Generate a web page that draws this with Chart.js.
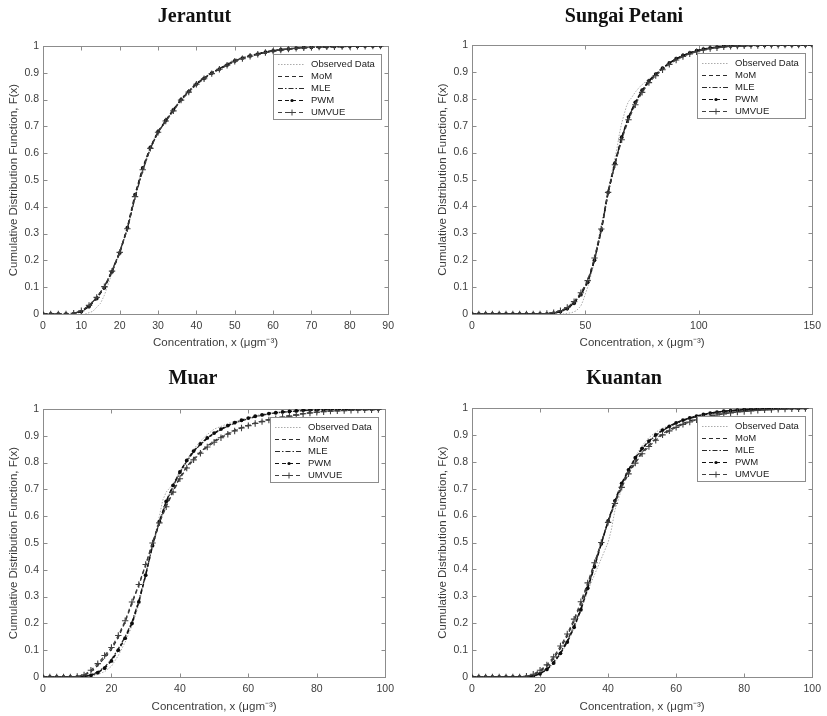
<!DOCTYPE html>
<html>
<head>
<meta charset="utf-8">
<title>CDF fits</title>
<script src="https://cdn.jsdelivr.net/npm/chart.js@4.4.1/dist/chart.umd.min.js"></script>
<style>
  html, body { margin: 0; padding: 0; background: #fff; }
  #fig { position: relative; width: 827px; height: 716px; overflow: hidden; }
  #fig canvas { position: absolute; }
</style>
</head>
<body>
<div id="fig">
  <canvas id="jer" width="400" height="358" style="left:0;top:0"></canvas>
  <canvas id="sp" width="395" height="358" style="left:432px;top:0"></canvas>
  <canvas id="muar" width="400" height="356" style="left:0;top:360px"></canvas>
  <canvas id="kua" width="395" height="356" style="left:432px;top:360px"></canvas>
</div>
<script>
// ---- data ----
// Jerantut
const jerX = [0,2,4,6,8,10,12,14,16,18,20,22,24,26,28,30,32,34,36,38,40,42,44,46,48,50,52,54,56,58,60,62,64,66,68,70,72,74,76,78,80,82,84,86,88];
const jerMoM = [0,0,0,0,0.002,0.01,0.03,0.06,0.10,0.16,0.23,0.32,0.44,0.54,0.62,0.68,0.72,0.76,0.80,0.83,0.86,0.88,0.90,0.915,0.93,0.945,0.955,0.963,0.97,0.977,0.982,0.986,0.989,0.992,0.994,0.995,0.996,0.997,0.998,0.998,0.999,0.999,1,1,1];
const jerMLE = [0,0,0,0,0.002,0.011,0.031,0.061,0.102,0.162,0.232,0.318,0.435,0.535,0.618,0.678,0.72,0.762,0.802,0.832,0.861,0.881,0.9,0.916,0.931,0.945,0.955,0.964,0.971,0.977,0.982,0.986,0.989,0.992,0.994,0.995,0.996,0.997,0.998,0.998,0.999,0.999,1,1,1];
const jerPWM = [0,0,0,0,0.001,0.009,0.028,0.058,0.098,0.158,0.228,0.322,0.445,0.545,0.622,0.68,0.722,0.762,0.8,0.83,0.858,0.879,0.899,0.914,0.929,0.944,0.955,0.963,0.97,0.977,0.982,0.986,0.989,0.992,0.994,0.995,0.996,0.997,0.998,0.998,0.999,0.999,1,1,1];
const jerUMVUE = [0,0,0,0,0.003,0.012,0.032,0.062,0.102,0.16,0.23,0.318,0.438,0.538,0.618,0.678,0.72,0.758,0.798,0.828,0.857,0.878,0.897,0.913,0.928,0.943,0.953,0.962,0.969,0.976,0.981,0.985,0.989,0.991,0.993,0.995,0.996,0.997,0.997,0.998,0.999,0.999,0.999,1,1];
const jerObsX = [11,13,14,15,16,17,18,19,20,21,22,23,24,25,26,27,28,29,30,31,32,33,34,36,38,40,42,44,46,48,50,53,56,60,65,72];
const jerObsY = [0,0.01,0.025,0.04,0.07,0.11,0.155,0.19,0.225,0.27,0.32,0.375,0.435,0.50,0.545,0.585,0.62,0.655,0.685,0.70,0.725,0.735,0.76,0.795,0.825,0.855,0.88,0.90,0.915,0.935,0.95,0.96,0.97,0.985,0.99,1.0];

// Sungai Petani
const spX = [0,3,6,9,12,15,18,21,24,27,30,33,36,39,42,45,48,51,54,57,60,63,66,69,72,75,78,81,84,87,90,93,96,99,102,105,108,111,114,117,120,123,126,129,132,135,138,141,144,147,150];
const spMoM = [0,0,0,0,0,0,0,0,0,0,0,0.001,0.004,0.011,0.022,0.043,0.075,0.12,0.205,0.315,0.455,0.56,0.655,0.73,0.785,0.83,0.865,0.89,0.912,0.932,0.948,0.96,0.97,0.978,0.984,0.989,0.992,0.994,0.996,0.997,0.998,0.998,0.999,0.999,0.999,1,1,1,1,1,1];
const spMLE = [0,0,0,0,0,0,0,0,0,0,0,0.001,0.003,0.01,0.021,0.041,0.073,0.118,0.2,0.31,0.45,0.558,0.655,0.73,0.786,0.831,0.866,0.891,0.913,0.933,0.948,0.96,0.97,0.978,0.984,0.989,0.992,0.994,0.996,0.997,0.998,0.998,0.999,0.999,0.999,1,1,1,1,1,1];
const spPWM = [0,0,0,0,0,0,0,0,0,0,0,0,0.003,0.009,0.02,0.04,0.072,0.118,0.2,0.312,0.452,0.56,0.657,0.732,0.787,0.832,0.867,0.892,0.914,0.933,0.949,0.961,0.971,0.979,0.985,0.989,0.992,0.995,0.996,0.997,0.998,0.999,0.999,0.999,1,1,1,1,1,1,1];
const spUMVUE = [0,0,0,0,0,0,0,0,0,0,0,0.002,0.005,0.012,0.024,0.046,0.079,0.124,0.208,0.316,0.452,0.555,0.648,0.722,0.778,0.824,0.86,0.886,0.908,0.928,0.944,0.957,0.967,0.975,0.982,0.987,0.99,0.993,0.995,0.996,0.997,0.998,0.998,0.999,0.999,0.999,1,1,1,1,1];
const spObsX = [40,44,46,48,49,50,51,52,53,54,55,56,57,58,59,60,61,62,63,64,65,66,67,68,69,70,72,74,76,78,80,83,86,90,95,100,105,110,120,130,140];
const spObsY = [0,0.005,0.012,0.03,0.05,0.075,0.10,0.13,0.16,0.2,0.25,0.29,0.33,0.37,0.42,0.46,0.50,0.54,0.58,0.62,0.67,0.71,0.74,0.77,0.79,0.80,0.825,0.845,0.86,0.875,0.885,0.905,0.925,0.95,0.97,0.98,0.987,0.992,0.997,0.999,1];

// Muar and Kuantan share the 0-98 grid
const x100 = [0,2,4,6,8,10,12,14,16,18,20,22,24,26,28,30,32,34,36,38,40,42,44,46,48,50,52,54,56,58,60,62,64,66,68,70,72,74,76,78,80,82,84,86,88,90,92,94,96,98];

// Muar
const muarMoM = [0,0,0,0,0,0.001,0.006,0.02,0.043,0.072,0.103,0.148,0.205,0.275,0.342,0.418,0.50,0.578,0.64,0.695,0.745,0.785,0.815,0.84,0.862,0.88,0.896,0.909,0.921,0.931,0.94,0.948,0.955,0.961,0.966,0.971,0.975,0.979,0.983,0.986,0.989,0.991,0.993,0.994,0.995,0.996,0.997,0.997,0.998,0.998];
const muarMLE = [0,0,0,0,0,0,0.003,0.008,0.019,0.037,0.065,0.105,0.15,0.205,0.285,0.382,0.49,0.578,0.652,0.712,0.762,0.805,0.84,0.868,0.89,0.908,0.923,0.936,0.947,0.956,0.964,0.971,0.977,0.982,0.985,0.988,0.99,0.992,0.994,0.995,0.996,0.997,0.998,0.998,0.999,0.999,0.999,1,1,1];
const muarPWM = [0,0,0,0,0,0,0.002,0.006,0.016,0.033,0.06,0.10,0.145,0.20,0.28,0.38,0.49,0.58,0.655,0.715,0.765,0.808,0.843,0.87,0.892,0.91,0.925,0.938,0.949,0.958,0.966,0.973,0.978,0.983,0.986,0.989,0.991,0.993,0.995,0.996,0.997,0.998,0.998,0.999,0.999,0.999,1,1,1,1];
const muarUMVUE = [0,0,0,0,0,0.002,0.008,0.025,0.05,0.08,0.11,0.155,0.21,0.28,0.345,0.42,0.50,0.575,0.635,0.69,0.74,0.78,0.81,0.835,0.858,0.876,0.893,0.906,0.918,0.929,0.938,0.946,0.953,0.959,0.964,0.969,0.973,0.977,0.982,0.985,0.988,0.99,0.992,0.993,0.994,0.995,0.996,0.997,0.997,0.998];
const muarObsX = [14,16,18,20,22,24,26,28,30,32,34,35,36,38,40,42,44,46,48,50,52,55,58,62,66,70,75,80,90];
const muarObsY = [0,0.01,0.02,0.04,0.08,0.13,0.19,0.27,0.38,0.49,0.60,0.66,0.69,0.72,0.77,0.81,0.85,0.88,0.905,0.925,0.935,0.95,0.96,0.975,0.985,0.99,0.995,0.998,1];

// Kuantan
const kuaMoM = [0,0,0,0,0,0,0,0,0.002,0.008,0.021,0.04,0.068,0.107,0.153,0.208,0.273,0.345,0.422,0.50,0.578,0.65,0.71,0.76,0.8,0.835,0.862,0.885,0.904,0.919,0.932,0.943,0.952,0.96,0.966,0.972,0.977,0.981,0.984,0.987,0.989,0.991,0.993,0.994,0.995,0.996,0.997,0.998,0.998,0.998];
const kuaMLE = [0,0,0,0,0,0,0,0,0.001,0.004,0.014,0.031,0.056,0.092,0.135,0.19,0.255,0.333,0.412,0.496,0.579,0.653,0.717,0.768,0.812,0.847,0.875,0.898,0.916,0.93,0.943,0.953,0.961,0.968,0.974,0.979,0.983,0.987,0.99,0.992,0.994,0.995,0.996,0.997,0.998,0.998,0.999,0.999,0.999,1];
const kuaPWM = [0,0,0,0,0,0,0,0,0,0.003,0.012,0.028,0.052,0.088,0.13,0.185,0.25,0.33,0.41,0.495,0.58,0.655,0.72,0.77,0.815,0.85,0.877,0.9,0.918,0.932,0.945,0.955,0.963,0.97,0.976,0.981,0.985,0.988,0.99,0.992,0.994,0.995,0.996,0.997,0.998,0.998,0.999,0.999,0.999,1];
const kuaUMVUE = [0,0,0,0,0,0,0,0,0.003,0.01,0.025,0.045,0.075,0.115,0.16,0.215,0.28,0.35,0.425,0.50,0.575,0.645,0.705,0.755,0.795,0.83,0.857,0.88,0.9,0.915,0.928,0.939,0.948,0.956,0.963,0.969,0.974,0.978,0.982,0.985,0.987,0.989,0.991,0.993,0.994,0.995,0.996,0.997,0.997,0.998];
const kuaObsX = [18,20,22,24,26,28,30,32,34,36,38,40,41,42,44,46,48,50,52,54,56,58,60,64,68,72,78,85,95];
const kuaObsY = [0,0.01,0.025,0.05,0.085,0.125,0.18,0.245,0.32,0.38,0.44,0.50,0.55,0.62,0.70,0.77,0.82,0.86,0.89,0.91,0.925,0.935,0.945,0.96,0.975,0.985,0.992,0.997,1];

// ---- styling ----
const SANS = '"Liberation Sans", Arial, Helvetica, sans-serif';
const AXIS = '#8c8c8c', TXT = '#3c3c3c';
const XTITLE = 'Concentration, x (\u03bcgm\u207b\u00b3)';
const YTITLE = 'Cumulative Distribution Function, F(x)';

const pts = (xs, ys) => xs.map((x, i) => ({ x, y: ys[i] }));

function series(xs, obsX, obsY, mom, mle, pwm, umvue) {
  return [
    { label: 'Observed Data', data: pts(obsX, obsY), borderColor: '#ababab', borderWidth: 1, borderDash: [1.5, 1.5], pointRadius: 0, order: 5 },
    { label: 'MoM', data: pts(xs, mom), borderColor: '#2e2e2e', borderWidth: 1.3, borderDash: [4, 3], pointRadius: 0, order: 4 },
    { label: 'MLE', data: pts(xs, mle), borderColor: '#2a2a2a', borderWidth: 1.3, borderDash: [5, 2, 1.5, 2], pointRadius: 0, order: 3 },
    { label: 'PWM', data: pts(xs, pwm), borderColor: '#111', borderWidth: 1.5, borderDash: [4, 3],
      pointStyle: 'circle', pointRadius: 1.9, pointBackgroundColor: '#0c0c0c', pointBorderWidth: 0, order: 2 },
    { label: 'UMVUE', data: pts(xs, umvue), borderColor: '#404040', borderWidth: 1.2, borderDash: [4, 3],
      pointStyle: 'cross', pointRadius: 3.2, pointBorderColor: '#404040', pointBorderWidth: 1.1, order: 1 },
  ];
}

// box, inward ticks and the MATLAB-like legend
const frame = {
  id: 'frame',
  beforeDatasetsDraw(chart) {
    const { ctx, chartArea: a, scales: { x, y } } = chart;
    const L = Math.round(a.left) + 0.5, R = Math.round(a.right) + 0.5;
    const T = Math.round(a.top) + 0.5, B = Math.round(a.bottom) + 0.5;
    ctx.save();
    ctx.strokeStyle = AXIS; ctx.lineWidth = 1;
    ctx.strokeRect(L, T, R - L, B - T);
    ctx.beginPath();
    x.ticks.forEach((t) => {
      const p = Math.round(x.getPixelForValue(t.value)) + 0.5;
      ctx.moveTo(p, B); ctx.lineTo(p, B - 4);
      ctx.moveTo(p, T); ctx.lineTo(p, T + 4);
    });
    y.ticks.forEach((t) => {
      const p = Math.round(y.getPixelForValue(t.value)) + 0.5;
      ctx.moveTo(L, p); ctx.lineTo(L + 4, p);
      ctx.moveTo(R, p); ctx.lineTo(R - 4, p);
    });
    ctx.stroke();
    ctx.restore();
  },
  afterDatasetsDraw(chart) {
    const { ctx, chartArea: a } = chart;
    const w = 108, h = 65;
    const lx = Math.round(a.right - 7 - w), ly = Math.round(a.top + 8);
    ctx.save();
    ctx.fillStyle = '#fff'; ctx.fillRect(lx, ly, w, h);
    ctx.strokeStyle = AXIS; ctx.lineWidth = 1;
    ctx.strokeRect(lx + 0.5, ly + 0.5, w, h);
    ctx.font = '9.5px ' + SANS; ctx.textBaseline = 'middle';
    chart.data.datasets.forEach((ds, i) => {
      const yy = Math.round(ly + 9.5 + i * 12.2) + 0.5;
      ctx.strokeStyle = ds.borderColor; ctx.lineWidth = 1;
      ctx.setLineDash(ds.borderDash || []);
      ctx.beginPath(); ctx.moveTo(lx + 5, yy); ctx.lineTo(lx + 32, yy); ctx.stroke();
      ctx.setLineDash([]);
      const mx = lx + 19;
      if (ds.pointStyle === 'circle' && ds.pointRadius) {
        ctx.fillStyle = ds.pointBackgroundColor;
        ctx.beginPath(); ctx.arc(mx, yy, 1.6, 0, Math.PI * 2); ctx.fill();
      } else if (ds.pointStyle === 'cross' && ds.pointRadius) {
        ctx.strokeStyle = ds.pointBorderColor; ctx.lineWidth = 1;
        ctx.beginPath();
        ctx.moveTo(mx - 3, yy); ctx.lineTo(mx + 3, yy);
        ctx.moveTo(mx, yy - 3); ctx.lineTo(mx, yy + 3);
        ctx.stroke();
      }
      ctx.fillStyle = '#222';
      ctx.fillText(ds.label, lx + 38, yy);
    });
    ctx.restore();
  },
};

const tickFmt = (v) => String(Math.round(v * 10) / 10);

function makeChart(id, p) {
  new Chart(document.getElementById(id), {
    type: 'line',
    data: { datasets: p.datasets },
    options: {
      responsive: false, animation: false,
      layout: { padding: { left: 0, right: p.padRight, top: 0, bottom: 0 } },
      plugins: {
        legend: { display: false }, tooltip: { enabled: false },
        title: { display: true, text: p.title, color: '#111',
          font: { family: '"Liberation Serif", "Times New Roman", serif', size: 20, weight: 'bold' },
          padding: { top: p.titleTop, bottom: p.titleBottom } },
      },
      scales: {
        x: {
          type: 'linear', min: 0, max: p.xMax,
          afterFit: (s) => { s.height = p.xHeight; },
          ticks: { stepSize: p.xStep, color: TXT, font: { family: SANS, size: 10.5 }, padding: 6, maxRotation: 0, callback: tickFmt },
          grid: { display: false, drawTicks: false }, border: { display: false },
          title: { display: true, text: XTITLE, color: TXT, font: { family: SANS, size: 11.5 }, padding: { top: 0, bottom: p.xTitlePad } },
        },
        y: {
          min: 0, max: 1,
          afterFit: (s) => { s.width = p.yWidth; },
          ticks: { stepSize: 0.1, color: TXT, font: { family: SANS, size: 10.5 }, padding: 4, callback: tickFmt },
          grid: { display: false, drawTicks: false }, border: { display: false },
          title: { display: true, text: YTITLE, color: TXT, font: { family: SANS, size: 11.5 }, padding: { top: p.yTitlePad, bottom: 0 } },
        },
      },
    },
    plugins: [frame],
  });
}

makeChart('jer', {
  title: 'Jerantut', xMax: 90, xStep: 10, padRight: 11, yWidth: 43, xHeight: 44,
  titleTop: 5, titleBottom: 17, xTitlePad: 8, yTitlePad: 7,
  datasets: series(jerX, jerObsX, jerObsY, jerMoM, jerMLE, jerPWM, jerUMVUE),
});
makeChart('sp', {
  title: 'Sungai Petani', xMax: 150, xStep: 50, padRight: 11, yWidth: 40, xHeight: 44,
  titleTop: 5, titleBottom: 16, xTitlePad: 8, yTitlePad: 4,
  datasets: series(spX, spObsX, spObsY, spMoM, spMLE, spPWM, spUMVUE),
});
makeChart('muar', {
  title: 'Muar', xMax: 100, xStep: 20, padRight: 14, yWidth: 43, xHeight: 39,
  titleTop: 7, titleBottom: 18, xTitlePad: 2.5, yTitlePad: 7,
  datasets: series(x100, muarObsX, muarObsY, muarMoM, muarMLE, muarPWM, muarUMVUE),
});
makeChart('kua', {
  title: 'Kuantan', xMax: 100, xStep: 20, padRight: 11, yWidth: 40, xHeight: 39,
  titleTop: 7, titleBottom: 17, xTitlePad: 2.5, yTitlePad: 4,
  datasets: series(x100, kuaObsX, kuaObsY, kuaMoM, kuaMLE, kuaPWM, kuaUMVUE),
});
</script>
</body>
</html>
